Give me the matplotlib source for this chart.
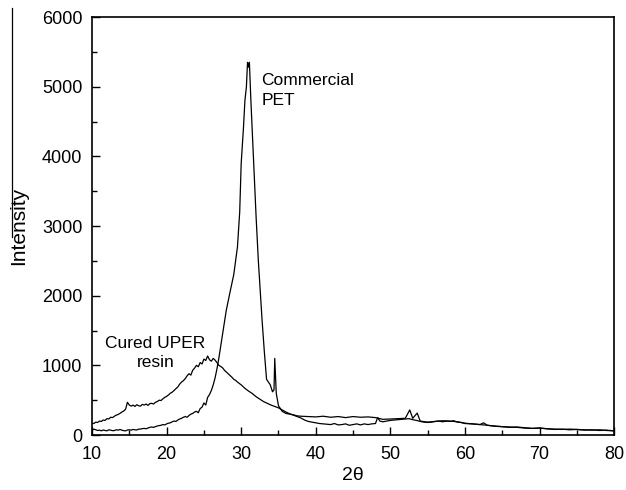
import matplotlib
matplotlib.use("Agg")
import matplotlib.pyplot as plt
from matplotlib.lines import Line2D
from matplotlib.ticker import MultipleLocator

plt.rcParams['font.family'] = ['Liberation Sans', 'DejaVu Sans']

# Cured UPER resin diffractogram (2-theta, intensity)
resin_2theta = [10, 10.25, 10.5, 10.75, 11, 11.25, 11.5, 11.75, 12, 12.25, 12.5, 12.75, 13, 13.25,
                13.5, 13.75, 14, 14.25, 14.5, 14.75, 15, 15.25, 15.5, 15.75, 16, 16.25, 16.5,
                16.75, 17, 17.25, 17.5, 17.75, 18, 18.25, 18.5, 18.75, 19, 19.25, 19.5, 19.75,
                20, 20.25, 20.5, 20.75, 21, 21.25, 21.5, 21.75, 22, 22.25, 22.5, 22.75, 23,
                23.25, 23.5, 23.75, 24, 24.25, 24.5, 24.75, 25, 25.25, 25.5, 25.75, 26, 26.25,
                26.5, 26.75, 27, 27.25, 27.5, 27.75, 28, 28.25, 28.5, 28.75, 29, 29.25, 29.5,
                29.75, 30, 30.5, 31, 31.5, 32, 32.5, 33, 33.5,
                34, 34.5, 35, 35.5, 36, 36.5, 37, 37.5, 38, 38.5, 39, 39.5, 40, 40.5, 41, 41.5,
                42, 42.5, 43, 43.5, 44, 44.5, 45, 45.5, 46, 46.5, 47, 47.5, 48, 48.3, 48.6, 49,
                49.5, 50, 50.5, 51, 51.5, 52, 52.5, 53, 53.5, 54, 54.5, 55, 55.5, 56, 56.5, 57,
                57.5, 58, 58.5, 59, 59.5, 60, 61, 62, 63, 64, 65, 66, 67, 68, 69, 70, 71, 72,
                73, 74, 75, 76, 77, 78, 79, 80]
resin_int = [170, 165, 185, 180, 200, 195, 215, 210, 235, 230, 255, 250, 270, 285,
             295, 310, 330, 345, 370, 470, 430, 415, 430, 410, 435, 420, 415,
             440, 430, 445, 425, 450, 455, 445, 470, 480, 500, 495, 520, 540,
             555, 575, 600, 615, 640, 665, 690, 730, 760, 780, 810, 850, 880,
             860, 930, 960, 1000, 980, 1040, 1020, 1090, 1070, 1135, 1080, 1060, 1100,
             1075, 1040, 1000, 985, 965, 930, 905, 880, 855, 830, 800, 785, 760,
             740, 720, 670, 630, 595, 550, 515, 480, 455,
             430, 410, 390, 360, 330, 305, 285, 265, 245, 215, 195, 185, 175, 165, 160, 155,
             150, 165, 145, 150, 160, 140, 150, 160, 145, 160, 150, 160, 165, 250, 200, 190,
             200, 210, 215, 220, 225, 230, 235, 220, 210, 195, 185, 180, 185, 195, 200, 190,
             200, 195, 205, 185, 180, 165, 160, 150, 140, 130, 120, 115, 110, 100, 95, 100, 90, 85,
             80, 85, 80, 75, 70, 75, 65, 60]

# Commercial PET diffractogram (2-theta, intensity)
pet_2theta = [10, 10.25, 10.5, 10.75, 11, 11.25, 11.5, 11.75, 12, 12.25, 12.5, 12.75, 13, 13.25,
              13.5, 13.75, 14, 14.25, 14.5, 14.75, 15, 15.25, 15.5, 15.75, 16, 16.25, 16.5,
              16.75, 17, 17.25, 17.5, 17.75, 18, 18.25, 18.5, 18.75, 19, 19.25, 19.5, 19.75,
              20, 20.25, 20.5, 20.75, 21, 21.25, 21.5, 21.75, 22, 22.25, 22.5, 22.75, 23,
              23.25, 23.5, 23.75, 24, 24.25, 24.5, 24.75, 25, 25.25, 25.5, 25.75, 26, 26.25,
              26.5, 26.75, 27, 27.5, 28, 28.5, 29, 29.5, 29.8, 30, 30.3, 30.5, 30.7, 30.85, 31.0,
              31.1, 31.3, 31.6, 32, 32.3, 32.6, 32.8, 33.1, 33.4, 33.9, 34.2, 34.4, 34.5, 34.7,
              35, 35.5, 36, 36.5, 37, 37.5, 38, 39, 40, 41, 42, 43, 44, 45, 46, 47, 48, 49,
              50, 51, 52, 52.6, 53, 53.6, 54, 55, 56, 57, 58, 59, 60, 61, 62, 62.5, 63, 64,
              65, 66, 67, 68, 69, 70, 71, 72, 73, 74, 75, 76, 77, 78, 79, 80]
pet_int = [70, 85, 75, 65, 70, 60, 72, 65, 60, 75, 70, 62, 65, 75,
           70, 80, 70, 62, 60, 72, 75, 70, 80, 75, 72, 85, 85,
           92, 95, 90, 100, 110, 115, 110, 120, 130, 135, 140, 150, 145,
           160, 170, 175, 190, 200, 195, 215, 230, 240, 255, 265, 255, 280,
           300, 310, 330, 340, 320, 380, 400, 460, 430, 540, 580, 640, 720,
           820, 950, 1100, 1450, 1790, 2050, 2300, 2700, 3200, 3900, 4400, 4800, 5000, 5350, 5280,
           5350, 4800, 4090, 3130, 2500, 2000, 1650, 1200, 800, 720, 620, 650, 1100, 600,
           420, 340, 310, 300, 290, 275, 270, 265, 260, 270, 255, 265, 250, 265, 255, 260, 250, 225,
           230, 235, 240, 360, 240, 315, 200, 185, 195, 205, 200, 190, 170, 160, 150, 175, 140, 125,
           120, 110, 115, 105, 95, 100, 90, 80, 85, 75, 80, 70, 75, 65, 70, 60]

x_ticks = [10, 20, 30, 40, 50, 60, 70, 80]
y_ticks = [0, 1000, 2000, 3000, 4000, 5000, 6000]

fig = plt.figure(figsize=(6.26, 4.90), dpi=100)
ax = fig.add_axes([0.147, 0.1122, 0.834, 0.8531])

ax.plot(resin_2theta, resin_int, color='black', lw=0.9)
ax.plot(pet_2theta, pet_int, color='black', lw=0.9)

ax.set_xlim(10, 80)
ax.set_ylim(0, 6000)
ax.set_xticks(x_ticks)
ax.set_yticks(y_ticks)
ax.xaxis.set_minor_locator(MultipleLocator(5))
ax.yaxis.set_minor_locator(MultipleLocator(500))
ax.tick_params(which='major', direction='in', length=6, width=1, labelsize=13)
ax.tick_params(axis='x', which='major', pad=8)
ax.tick_params(axis='y', which='major', pad=7)
ax.tick_params(which='minor', direction='in', length=3.5, width=1)
for s in ax.spines.values():
    s.set_linewidth(1.2)

ax.set_xlabel('2\u03b8', fontsize=14, labelpad=3)
ax.set_ylabel('Intensity', fontsize=15, labelpad=10)

ax.text(32.7, 5200, 'Commercial\nPET', fontsize=12.5, ha='left', va='top', linespacing=1.45)
ax.text(18.5, 1420, 'Cured UPER\nresin', fontsize=12.5, ha='center', va='top',
        multialignment='center', linespacing=1.3)

fig.add_artist(Line2D([12 / 626, 12 / 626], [1 - 8 / 490, 1 - 237 / 490],
                      transform=fig.transFigure, color='black', lw=0.9))

fig.savefig('out.png', dpi=100)
